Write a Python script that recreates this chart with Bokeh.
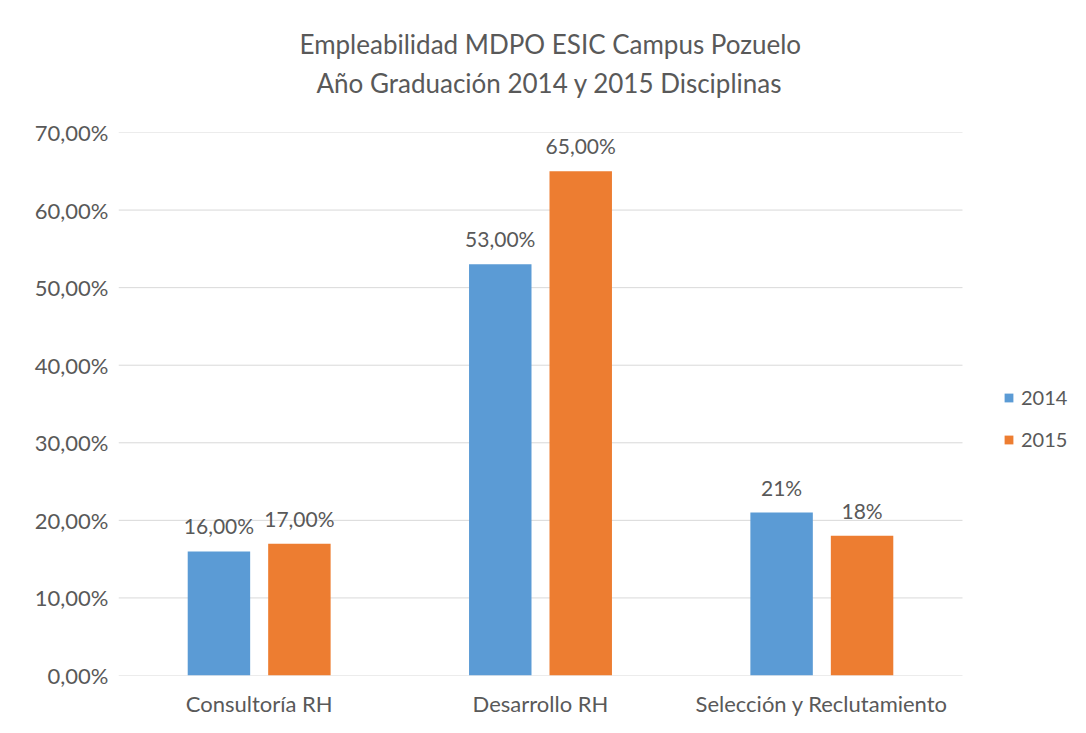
from bokeh.plotting import figure
from bokeh.models import ColumnDataSource, Range1d, FixedTicker, Legend, LegendItem, Title, LabelSet
from bokeh.core.properties import value
from bokeh.embed import file_html
from bokeh.resources import INLINE

categories = ["Consultoría RH", "Desarrollo RH", "Selección y Reclutamiento"]
series = ["2014", "2015"]
v2014 = [16, 53, 21]
v2015 = [17, 65, 18]
labels2014 = ["16,00%", "53,00%", "21%"]
labels2015 = ["17,00%", "65,00%", "18%"]
yticks = [0, 10, 20, 30, 40, 50, 60, 70]
ytick_labels = ["0,00%", "10,00%", "20,00%", "30,00%", "40,00%", "50,00%", "60,00%", "70,00%"]
title_lines = ["Empleabilidad MDPO ESIC Campus Pozuelo", "Año Graduación 2014 y 2015 Disciplinas"]

BLUE = "#5B9BD5"
ORANGE = "#ED7D31"
TXT = "#595959"
GRID = "#D9D9D9"
FONT = "Lato"

W, H = 1070, 719
LEFT, RIGHT, TOP, BOTTOM = 118, 0, 132, 40
PLOT_W = 844  # width used by the category area; the rest of the frame holds the legend
frame_w = W - LEFT - RIGHT
n = len(categories)
x_end = n * frame_w / PLOT_W

centers = [i + 0.5 for i in range(n)]
OFF, BW = 0.143, 0.222
src = ColumnDataSource(dict(
    x1=[c - OFF for c in centers], x2=[c + OFF for c in centers],
    v2014=v2014, v2015=v2015, l2014=labels2014, l2015=labels2015))

p = figure(x_range=Range1d(0, x_end), y_range=Range1d(0, 70),
           width=W, height=H, output_backend="svg", toolbar_location=None,
           min_border_left=LEFT, min_border_right=RIGHT, min_border_top=TOP, min_border_bottom=BOTTOM)

# spacer between frame and title block
p.add_layout(Title(text=" ", text_font=FONT, text_font_size="22px", standoff=0), "above")
p.add_layout(Title(text=title_lines[1], align="left", text_font=FONT,
                   text_font_size="26px", text_font_style="normal", text_color=TXT,
                   standoff=10, offset=198), "above")
p.add_layout(Title(text=title_lines[0], align="left", text_font=FONT,
                   text_font_size="26px", text_font_style="normal", text_color=TXT,
                   standoff=0, offset=181), "above")

# gridlines limited to the category area
p.segment(x0=[0] * len(yticks), x1=[n] * len(yticks), y0=yticks, y1=yticks,
          line_color=GRID, line_width=1)

b1 = p.vbar(x="x1", top="v2014", width=BW, source=src, fill_color=BLUE, line_color=None)
b2 = p.vbar(x="x2", top="v2015", width=BW, source=src, fill_color=ORANGE, line_color=None)

for xcol, col, lab in (("x1", "v2014", "l2014"), ("x2", "v2015", "l2015")):
    p.add_layout(LabelSet(x=xcol, y=col, text=lab, source=src,
                          text_align="center", text_baseline="bottom", y_offset=13,
                          text_font=value(FONT), text_font_size=value("21px"),
                          text_color=value(TXT)))

p.yaxis.ticker = FixedTicker(ticks=yticks)
p.yaxis.major_label_overrides = {t: l for t, l in zip(yticks, ytick_labels)}
p.xaxis.ticker = FixedTicker(ticks=centers)
p.xaxis.major_label_overrides = {c: name for c, name in zip(centers, categories)}
for ax in (p.xaxis, p.yaxis):
    ax.axis_line_color = None
    ax.major_tick_line_color = None
    ax.minor_tick_line_color = None
    ax.major_label_text_font = FONT
    ax.major_label_text_font_size = "22px"
    ax.major_label_text_color = TXT
p.yaxis.major_label_standoff = 4
p.xaxis.major_label_standoff = 8

p.xgrid.grid_line_color = None
p.ygrid.grid_line_color = None
p.outline_line_color = None

legend = Legend(items=[LegendItem(label=series[0], renderers=[b1]),
                       LegendItem(label=series[1], renderers=[b2])],
                location=(885, 224), label_text_font=FONT, label_text_font_size="20px",
                label_text_color=TXT, glyph_width=11, glyph_height=11, spacing=18,
                border_line_color=None, background_fill_alpha=0, label_standoff=7,
                padding=0, margin=0)
p.add_layout(legend)

open("out.html", "w").write(file_html(p, INLINE))
